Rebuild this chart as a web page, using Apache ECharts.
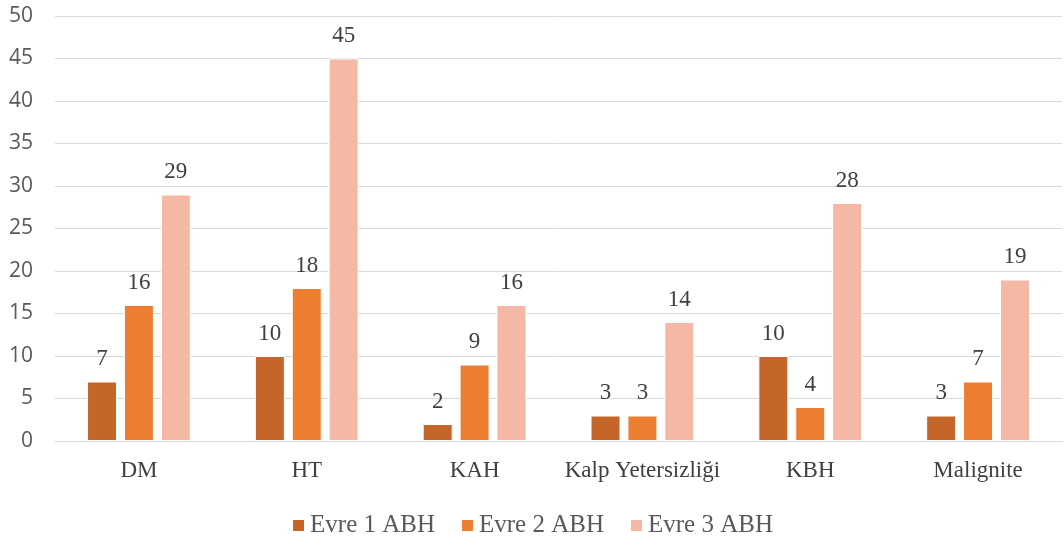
<!DOCTYPE html>
<html>
<head>
<meta charset="utf-8">
<script src="https://cdn.jsdelivr.net/npm/echarts@6/dist/echarts.min.js"></script>
<style>
  html, body { margin: 0; padding: 0; background: #fff; }
  #chart { width: 1064px; height: 537px; }
</style>
</head>
<body>
<div id="chart"></div>
<script>
// Comorbidities by stage
const categories = ['DM', 'HT', 'KAH', 'Kalp Yetersizliği', 'KBH', 'Malignite'];
const seriesNames = ['Evre 1 ABH', 'Evre 2 ABH', 'Evre 3 ABH'];
const evre1 = [7, 10, 2, 3, 10, 3];
const evre2 = [16, 18, 9, 3, 4, 7];
const evre3 = [29, 45, 16, 14, 28, 19];
const yTicks = [0, 5, 10, 15, 20, 25, 30, 35, 40, 45, 50];

const colors = ['#C4652A', '#ED7D31', '#F4B8A4'];
const serif = '"Liberation Serif", "Times New Roman", serif';

function makeSeries(name, data, color) {
  return {
    name: name,
    type: 'bar',
    data: data,
    barWidth: 30,
    barGap: '23%',
    itemStyle: { color: color, borderColor: '#ffffff', borderWidth: 1 },
    label: {
      show: true,
      position: 'top',
      distance: 11,
      color: '#404040',
      fontFamily: serif,
      fontSize: 23
    }
  };
}

const chart = echarts.init(document.getElementById('chart'));
chart.setOption({
  animation: false,
  color: colors,
  grid: { left: 55, right: 2, top: 16, bottom: 96, containLabel: false },
  legend: {
    top: 508,
    left: 'center',
    itemWidth: 13,
    itemHeight: 13,
    itemGap: 25,
    icon: 'rect',
    textStyle: { color: '#595959', fontFamily: serif, fontSize: 25 },
    data: seriesNames
  },
  xAxis: {
    type: 'category',
    data: categories,
    axisLine: { lineStyle: { color: '#d9d9d9', width: 1 } },
    axisTick: { show: false },
    axisLabel: { interval: 0, color: '#404040', fontFamily: serif, fontSize: 23, margin: 18 }
  },
  yAxis: {
    type: 'value',
    min: yTicks[0],
    max: yTicks[yTicks.length - 1],
    interval: 5,
    axisLine: { show: false },
    axisTick: { show: false },
    splitLine: { lineStyle: { color: '#d9d9d9', width: 1 } },
    axisLabel: { color: '#595959', fontFamily: '"Open Sans", sans-serif', fontSize: 21, margin: 22 }
  },
  series: [
    makeSeries(seriesNames[0], evre1, colors[0]),
    makeSeries(seriesNames[1], evre2, colors[1]),
    makeSeries(seriesNames[2], evre3, colors[2])
  ]
});
</script>
</body>
</html>
